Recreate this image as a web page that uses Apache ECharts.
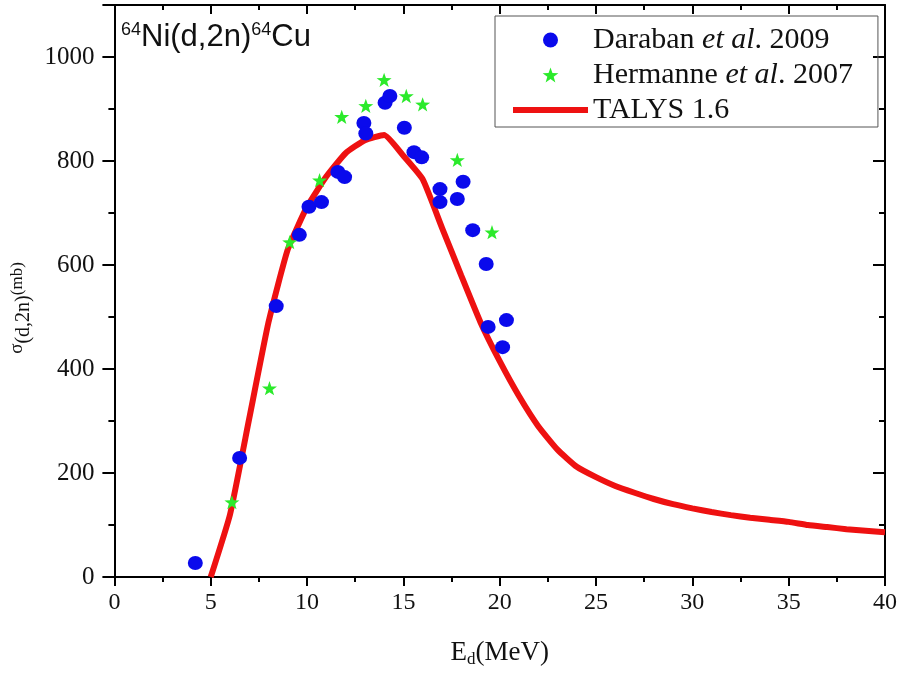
<!DOCTYPE html>
<html>
<head>
<meta charset="utf-8">
<script src="https://cdn.jsdelivr.net/npm/echarts@6/dist/echarts.min.js"></script>
<style>
  html, body { margin: 0; padding: 0; background: #fff; }
  #cross_section { width: 900px; height: 675px; }
</style>
</head>
<body>
<div id="cross_section"></div>
<script>
// Daraban et al. 2009
var darabanE = [4.2, 6.5, 8.4, 9.6, 10.1, 10.75, 11.6, 11.95, 12.95, 13.05, 14.05, 14.3, 15.05, 15.55, 15.95, 16.9, 16.9, 17.8, 18.1, 18.6, 19.3, 19.4, 20.15, 20.35];
var darabanS = [27, 229, 521, 658, 712, 721, 779, 769, 873, 853, 912, 925, 864, 817, 807, 746, 721, 727, 760, 667, 602, 481, 442, 494];
// Hermanne et al. 2007
var hermanneE = [6.1, 8.05, 9.1, 10.65, 11.8, 13.05, 14.0, 15.15, 16.0, 17.8, 19.6];
var hermanneS = [144, 363, 644, 763, 885, 906, 956, 925, 909, 802, 663];
// TALYS 1.6
var talysE = [5, 6, 7, 8, 9, 10, 11, 12, 13, 14, 15, 16, 17, 18, 19, 20, 21, 22, 23, 24, 25, 26, 27, 28, 29, 30, 31, 32, 33, 34, 35, 36, 37, 38, 39, 40];
var talysS = [0, 120, 305, 490, 630, 712, 770, 815, 840, 850, 810, 765, 672, 580, 490, 415, 348, 290, 245, 212, 192, 175, 162, 150, 140, 132, 125, 119, 114, 110, 106, 100, 96, 92, 89, 86];

var xTicks = [0, 5, 10, 15, 20, 25, 30, 35, 40];
var yTicks = [0, 200, 400, 600, 800, 1000];

function pairs(xs, ys) {
    return xs.map(function (x, i) { return [x, ys[i]]; });
}

var starPath = 'path://M0,-100 L23.5,-32.4 L95.1,-30.9 L38,12.4 L58.8,80.9 L0,40 L-58.8,80.9 L-38,12.4 L-95.1,-30.9 L-23.5,-32.4 Z';
var serif = 'Liberation Serif, Times New Roman, serif';
var sans = 'Liberation Sans, Arial, sans-serif';

var chart = echarts.init(document.getElementById('cross_section'));
var option = {
    animation: false,
    title: {
        text: '{sup|64}{b|Ni(d,2n)}{sup|64}{b|Cu}',
        left: 116,
        top: 16,
        textStyle: {
            fontWeight: 'normal',
            rich: {
                sup: { fontSize: 18, fontFamily: sans, fontWeight: 'normal', color: '#111', padding: [0, 0, 14, 0] },
                b: { fontSize: 31, fontFamily: sans, fontWeight: 'normal', color: '#111' }
            }
        }
    },
    legend: {
        orient: 'vertical',
        left: 495,
        top: 16,
        padding: [8, 25, 1, 15],
        itemWidth: 75,
        itemHeight: 15,
        itemGap: 3,
        borderColor: '#555',
        borderWidth: 1,
        data: [
            { name: 'Daraban et al. 2009' },
            { name: 'Hermanne et al. 2007' },
            { name: 'TALYS 1.6', lineStyle: { width: 6, color: '#ee1111' }, itemStyle: { opacity: 0 } }
        ],
        formatter: function (name) {
            if (name === 'Daraban et al. 2009') return 'Daraban {i|et al}. 2009';
            if (name === 'Hermanne et al. 2007') return 'Hermanne {i|et al}. 2007';
            return name;
        },
        textStyle: {
            fontSize: 30,
            fontFamily: serif,
            color: '#111',
            lineHeight: 32,
            rich: {
                i: { fontSize: 30, fontFamily: serif, fontStyle: 'italic', color: '#111' }
            }
        }
    },
    grid: {
        left: 112,
        right: 14,
        top: 5,
        bottom: 98
    },
    xAxis: [
        {
            type: 'value',
            min: 0,
            max: 40,
            interval: 5,
            name: '{n|E}{s|d}{n|(MeV)}',
            nameLocation: 'middle',
            nameGap: 60,
            nameTextStyle: {
                rich: {
                    n: { fontSize: 27, fontFamily: serif, color: '#111' },
                    s: { fontSize: 17, fontFamily: serif, color: '#111', padding: [14, 0, 0, 0] }
                }
            },
            axisLine: { onZero: false, lineStyle: { color: '#000', width: 2 } },
            axisTick: { length: 9, lineStyle: { color: '#000', width: 2 } },
            minorTick: { show: true, splitNumber: 2, length: 5, lineStyle: { color: '#000', width: 2 } },
            splitLine: { show: false },
            axisLabel: {
                margin: 14,
                fontSize: 24,
                fontFamily: serif,
                color: '#111',
                formatter: function (v) { return xTicks.indexOf(v) >= 0 ? String(v) : ''; }
            }
        },
        {
            type: 'value',
            position: 'top',
            min: 0,
            max: 40,
            interval: 5,
            axisLine: { show: true, onZero: false, lineStyle: { color: '#000', width: 2 } },
            axisTick: { show: true, inside: true, length: 9, lineStyle: { color: '#000', width: 2 } },
            minorTick: { show: true, splitNumber: 2, length: 5, lineStyle: { color: '#000', width: 2 } },
            splitLine: { show: false },
            axisLabel: { show: false }
        }
    ],
    yAxis: [
        {
            type: 'value',
            min: 0,
            max: 1100,
            interval: 200,
            name: '{s|σ}{d|(d,2n)}{m|(mb)}',
            nameLocation: 'middle',
            nameRotate: 90,
            nameGap: 74,
            nameTextStyle: {
                padding: [0, 0, 0, -34],
                rich: {
                    s: { fontSize: 19, fontFamily: serif, color: '#111' },
                    d: { fontSize: 20, fontFamily: serif, color: '#111', padding: [12, 0, 0, 0] },
                    m: { fontSize: 17, fontFamily: serif, color: '#111' }
                }
            },
            axisLine: { onZero: false, lineStyle: { color: '#000', width: 2 } },
            axisTick: { length: 12, lineStyle: { color: '#000', width: 2 } },
            minorTick: { show: true, splitNumber: 2, length: 6, lineStyle: { color: '#000', width: 2 } },
            splitLine: { show: false },
            axisLabel: {
                margin: 20,
                fontSize: 25,
                fontFamily: serif,
                color: '#111',
                showMaxLabel: false,
                formatter: function (v) { return yTicks.indexOf(v) >= 0 ? String(v) : ''; }
            }
        },
        {
            type: 'value',
            position: 'right',
            min: 0,
            max: 1100,
            interval: 200,
            axisLine: { show: true, onZero: false, lineStyle: { color: '#000', width: 2 } },
            axisTick: { show: true, inside: true, length: 12, lineStyle: { color: '#000', width: 2 } },
            minorTick: { show: true, splitNumber: 2, length: 6, lineStyle: { color: '#000', width: 2 } },
            splitLine: { show: false },
            axisLabel: { show: false }
        }
    ],
    series: [
        {
            name: 'Daraban et al. 2009',
            type: 'scatter',
            symbol: 'circle',
            symbolSize: [15, 14],
            itemStyle: { color: '#0a0aec', opacity: 1 },
            data: pairs(darabanE, darabanS),
            z: 3
        },
        {
            name: 'Hermanne et al. 2007',
            type: 'scatter',
            symbol: starPath,
            symbolKeepAspect: true,
            symbolSize: 15,
            itemStyle: { color: '#2bea2b', opacity: 1 },
            data: pairs(hermanneE, hermanneS),
            z: 3
        },
        {
            name: 'TALYS 1.6',
            type: 'line',
            symbol: 'none',
            smooth: 0.15,
            lineStyle: { color: '#ee1111', width: 6 },
            itemStyle: { color: '#ee1111' },
            data: pairs(talysE, talysS),
            z: 2
        }
    ]
};
chart.setOption(option);

window.addEventListener('resize', function () {
    chart.resize();
});
</script>
</body>
</html>
